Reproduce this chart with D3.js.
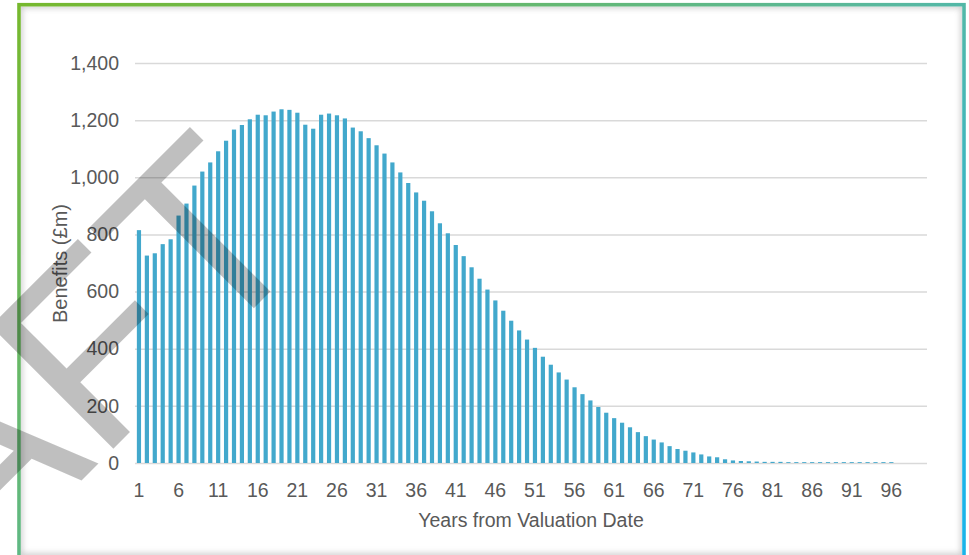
<!DOCTYPE html>
<html>
<head lang="en">
  <meta charset="UTF-8">
  <title>Benefits by year</title>
</head>
<style>
  body { margin: 0; background: #fff; }
  #chart text { font-family: "Liberation Sans", Arial, sans-serif; fill: #595959; }
  #chart .grid line { stroke: #d9d9d9; stroke-width: 1.5; }
  #chart rect.bar { fill: #42a8cc; }
</style>
<body>

<svg id="chart" width="969" height="555"></svg>

<script src="https://cdn.jsdelivr.net/npm/d3@7/dist/d3.min.js"></script>
<script>
  // years 1..100 from valuation date
  var years = d3.range(1, 101);
  // benefits (£m)
  var benefits = [
    815, 726, 734, 766, 783, 866, 908, 971, 1020, 1052,
    1091, 1128, 1167, 1183, 1203, 1219, 1217, 1230, 1238, 1236,
    1226, 1184, 1170, 1219, 1223, 1217, 1206, 1174, 1161, 1137,
    1112, 1083, 1052, 1017, 980, 947, 918, 881, 839, 804,
    763, 724, 685, 645, 607, 569, 533, 498, 464, 432,
    403, 372, 344, 317, 292, 265, 241, 219, 196, 176,
    157, 141, 125, 108, 94, 82, 72, 59, 49, 43,
    37, 30, 23, 20, 13, 9, 7, 6, 5, 4,
    4, 4, 3, 3, 3, 3, 3, 3, 3, 3,
    3, 3, 3, 3, 3, 3, 0, 0, 0, 0
  ];
  var yTicks = [0, 200, 400, 600, 800, 1000, 1200, 1400];
  var xTickYears = years.filter(function(d) { return (d - 1) % 5 === 0 && d < 100; });

  var svg = d3.select('#chart');
  var defs = svg.append('defs');

  var grad = defs.append('linearGradient')
      .attr('id', 'frameGrad')
      .attr('gradientUnits', 'userSpaceOnUse')
      .attr('x1', 0).attr('y1', 0).attr('x2', 778).attr('y2', 946);
  grad.append('stop').attr('offset', 0).attr('stop-color', '#77b82a');
  grad.append('stop').attr('offset', 0.47).attr('stop-color', '#58b8a0');
  grad.append('stop').attr('offset', 0.8).attr('stop-color', '#1ab3e8');

  defs.append('filter').attr('id', 'soft')
      .attr('x', -0.1).attr('y', -0.1).attr('width', 1.2).attr('height', 1.2)
    .append('feGaussianBlur').attr('stdDeviation', 3);

  defs.append('clipPath').attr('id', 'inside')
    .append('rect').attr('x', 21).attr('y', 6.5).attr('width', 941).attr('height', 556);

  svg.append('rect').attr('width', 969).attr('height', 555).attr('fill', '#fff');

  // inner shadow of the frame
  svg.append('g').attr('clip-path', 'url(#inside)')
    .append('rect')
      .attr('x', 19).attr('y', 4.7).attr('width', 945).attr('height', 552)
      .attr('fill', 'none').attr('stroke', '#9a9a9a').attr('stroke-width', 6)
      .attr('opacity', 0.55).attr('filter', 'url(#soft)');

  var x = d3.scaleBand()
      .domain(years)
      .range([135, 927])
      .paddingInner(0.47)
      .paddingOuter(0.235);

  var y = d3.scaleLinear()
      .domain([0, 1400])
      .range([463, 63]);

  svg.append('g')
      .attr('class', 'grid')
      .attr('transform', 'translate(135,0)')
      .call(d3.axisLeft(y).tickValues(yTicks).tickFormat(d3.format(','))
        .tickSize(-792).tickPadding(16))
      .call(function(g) { g.select('.domain').remove(); })
      .call(function(g) { g.selectAll('text').style('font-size', '19.5px'); });

  svg.append('g')
    .selectAll('rect')
    .data(benefits)
    .enter()
      .append('rect')
      .attr('class', 'bar')
      .attr('x', function(d, i) { return x(years[i]); })
      .attr('width', x.bandwidth())
      .attr('y', function(d) { return y(d); })
      .attr('height', function(d) { return y(0) - y(d); });

  svg.append('g')
      .attr('transform', 'translate(0,463)')
      .call(d3.axisBottom(x).tickValues(xTickYears).tickSize(0).tickPadding(20))
      .call(function(g) { g.select('.domain').remove(); })
      .call(function(g) { g.selectAll('text').style('font-size', '19.5px'); });

  svg.append('text')
      .attr('transform', 'translate(66.5,263.5) rotate(-90)')
      .attr('text-anchor', 'middle')
      .style('font-size', '20px')
      .text('Benefits (£m)');

  svg.append('text')
      .attr('x', 531).attr('y', 527)
      .attr('text-anchor', 'middle')
      .style('font-size', '19.5px')
      .text('Years from Valuation Date');

  // frame
  svg.append('rect')
      .attr('x', 19).attr('y', 4.7).attr('width', 945).attr('height', 560)
      .attr('fill', 'none').attr('stroke', 'url(#frameGrad)').attr('stroke-width', 3.6);

  // watermark
  svg.append('text')
      .attr('transform', 'translate(316.5,245.5) rotate(-45)')
      .attr('text-anchor', 'end')
      .style('font-size', '252px')
      .style('fill', '#000')
      .style('fill-opacity', 0.25)
      .text('DRAFT');
</script>
</body>
</html>
